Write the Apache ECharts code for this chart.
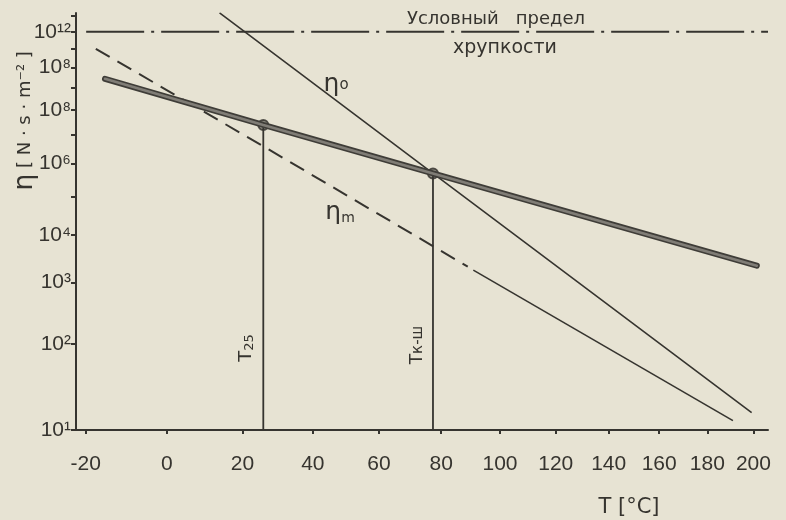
<!DOCTYPE html>
<html><head><meta charset="utf-8">
<script src="https://cdn.jsdelivr.net/npm/echarts@6/dist/echarts.min.js"></script>
<style>html,body{margin:0;padding:0;background:#e7e3d3;}#c{width:786px;height:520px;}</style>
</head><body><div id="c"></div>
<script>
// Temperatures in °C; viscosities as log10(η)
const xTicks = [-20, 0, 20, 40, 60, 80, 100, 120, 140, 160, 180, 200];
const yTickExp = [1, 2, 3, 4, 5, 6, 7, 8, 9, 10, 11, 12, 13];
const yLabelExp = [1, 2, 3, 4, 6, 8, 10, 12];
const yLabelText = ['10¹', '10²', '10³', '10⁴', '10⁶', '10⁸', '10⁸', '10¹²'];

const etaT = [-15.4, 25.8, 77.3, 201.5];
const etaLog = [9.42, 7.39, 5.68, 3.33];

const eta0T = [13.8, 36.3, 77.3, 136.6, 199.2];
const eta0Log = [13.21, 9.69, 5.68, 2.71, 1.17];

const etaMDashT = [-17.6, 25.8, 88.9];
const etaMDashLog = [11.0, 6.59, 3.31];
const etaMSolidT = [90.8, 191];
const etaMSolidLog = [3.24, 1.09];

const limitT = [-19.9, 206.5];
const limitLog = [12, 12];

const markT = [25.8, 77.3];       // T25, Tк-ш
const markLog = [7.39, 5.68];
const markNames = ['T25', 'Tк-ш'];

const xMinC = -22.3, xMaxC = 206.5;
const yMinExp = 1, yMaxExp = 13.2;

const K0 = 273;
const ink = '#36342f';
const pts = (T, L) => T.map((t, i) => [t + K0, L[i] + 1]);
const vline = i => [[markT[i] + K0, yMinExp + 1], [markT[i] + K0, markLog[i] + 1]];

const chart = echarts.init(document.getElementById('c'));
const lineBase = { type: 'line', symbol: 'none', silent: true, animation: false };

chart.setOption({
  backgroundColor: '#e7e3d3',
  animation: false,
  grid: { left: 76, right: 18, top: 13, bottom: 90 },
  xAxis: {
    type: 'log', logBase: 10, min: xMinC + K0, max: xMaxC + K0,
    axisLine: { onZero: false, lineStyle: { color: ink, width: 2 } },
    axisTick: { customValues: xTicks.map(t => t + K0), length: 4, lineStyle: { color: ink, width: 2 } },
    axisLabel: { customValues: xTicks.map(t => t + K0), formatter: v => String(Math.round(v - K0)),
      margin: 24, fontSize: 21, fontFamily: 'Liberation Sans', color: ink },
    splitLine: { show: false }, minorTick: { show: false }
  },
  yAxis: {
    type: 'log', logBase: 10, min: yMinExp + 1, max: yMaxExp + 1,
    axisLine: { onZero: false, lineStyle: { color: ink, width: 2 } },
    axisTick: { customValues: yTickExp.map(e => e + 1), length: 5, lineStyle: { color: ink, width: 2 } },
    axisLabel: { customValues: yLabelExp.map(e => e + 1),
      formatter: v => { const i = yLabelExp.findIndex(e => Math.abs(e + 1 - v) < 1e-6); return i >= 0 ? yLabelText[i] : ''; },
      margin: 5, fontSize: 21, fontFamily: 'Liberation Sans', color: ink },
    splitLine: { show: false }, minorTick: { show: false }
  },
  series: [
    Object.assign({}, lineBase, { name: 'limit', data: pts(limitT, limitLog),
      lineStyle: { color: ink, width: 2, type: [58, 7, 3, 7] } }),
    Object.assign({}, lineBase, { name: 'η0', data: pts(eta0T, eta0Log),
      lineStyle: { color: ink, width: 1.6 },
      markPoint: { symbol: 'circle', symbolSize: 1, itemStyle: { color: 'rgba(0,0,0,0)' }, silent: true,
        data: [{ coord: [319.9, 10.13], label: { show: true, position: 'inside', formatter: '{e|η}{s|o}',
          rich: { e: { fontSize: 25, fontFamily: 'DejaVu Sans', color: ink }, s: { fontSize: 15, fontFamily: 'DejaVu Sans', color: ink } } } }] } }),
    Object.assign({}, lineBase, { name: 'ηm dashed', data: pts(etaMDashT, etaMDashLog),
      lineStyle: { color: ink, width: 2, type: [16, 9] } }),
    Object.assign({}, lineBase, { name: 'ηm', data: pts(etaMSolidT, etaMSolidLog),
      lineStyle: { color: ink, width: 1.6 },
      markPoint: { symbol: 'circle', symbolSize: 1, itemStyle: { color: 'rgba(0,0,0,0)' }, silent: true,
        data: [{ coord: [321.1, 5.549], label: { show: true, position: 'inside', formatter: '{e|η}{s|m}',
          rich: { e: { fontSize: 25, fontFamily: 'DejaVu Sans', color: ink }, s: { fontSize: 14, fontFamily: 'DejaVu Sans', color: ink, verticalAlign: 'bottom', padding: [10, 0, 0, 0] } } } }] } }),
    Object.assign({}, lineBase, { name: markNames[0], data: vline(0),
      lineStyle: { color: ink, width: 1.8 },
      markPoint: { symbol: 'circle', symbolSize: 1, itemStyle: { color: 'rgba(0,0,0,0)' }, silent: true,
        data: [{ coord: [294.2, 2.941], label: { show: true, position: 'inside', rotate: 90, formatter: '{t|T}{s|25}',
          rich: { t: { fontSize: 18, fontFamily: 'DejaVu Sans', color: ink }, s: { fontSize: 13, fontFamily: 'DejaVu Sans', color: ink, verticalAlign: 'bottom', padding: [6, 0, 0, 0] } } } }] } }),
    Object.assign({}, lineBase, { name: markNames[1], data: vline(1),
      lineStyle: { color: ink, width: 1.8 },
      markPoint: { symbol: 'circle', symbolSize: 1, itemStyle: { color: 'rgba(0,0,0,0)' }, silent: true,
        data: [{ coord: [345.4, 2.982], label: { show: true, position: 'inside', rotate: 90, formatter: '{t|T}{s|к-ш}',
          rich: { t: { fontSize: 17, fontFamily: 'DejaVu Sans', color: ink }, s: { fontSize: 15, fontFamily: 'DejaVu Sans', color: ink } } } }] } }),
    Object.assign({}, lineBase, { name: 'η outline', data: pts(etaT, etaLog),
      lineStyle: { color: '#3f3d38', width: 6, cap: 'round' } }),
    Object.assign({}, lineBase, { name: 'η', data: pts(etaT, etaLog),
      lineStyle: { color: '#807d76', width: 2.6, cap: 'round' } }),
    { type: 'scatter', name: 'points', silent: true, animation: false, symbol: 'circle', symbolSize: 10,
      data: pts(markT, markLog),
      itemStyle: { color: '#7c7971', borderColor: '#2e2c28', borderWidth: 2 } }
  ],
  graphic: [
    { type: 'text', x: 25, y: 121, rotation: Math.PI / 2, silent: true,
      style: { text: '{e|η}{r| [ N · s · m⁻² ]}', align: 'center', verticalAlign: 'middle',
        rich: { e: { fontSize: 27, fontFamily: 'DejaVu Sans', fill: ink }, r: { fontSize: 18, fontFamily: 'DejaVu Sans', fill: ink } } } },
    { type: 'text', x: 629, y: 508, silent: true,
      style: { text: 'T [°C]', align: 'center', verticalAlign: 'middle', fontSize: 21, fontFamily: 'DejaVu Sans', fill: ink } },
    { type: 'text', x: 496, y: 19, silent: true,
      style: { text: 'Условный   предел', align: 'center', verticalAlign: 'middle', fontSize: 18, fontFamily: 'DejaVu Sans', fill: ink } },
    { type: 'text', x: 505, y: 48, silent: true,
      style: { text: 'хрупкости', align: 'center', verticalAlign: 'middle', fontSize: 19, fontFamily: 'DejaVu Sans', fill: ink } }
  ]
});
</script></body></html>
